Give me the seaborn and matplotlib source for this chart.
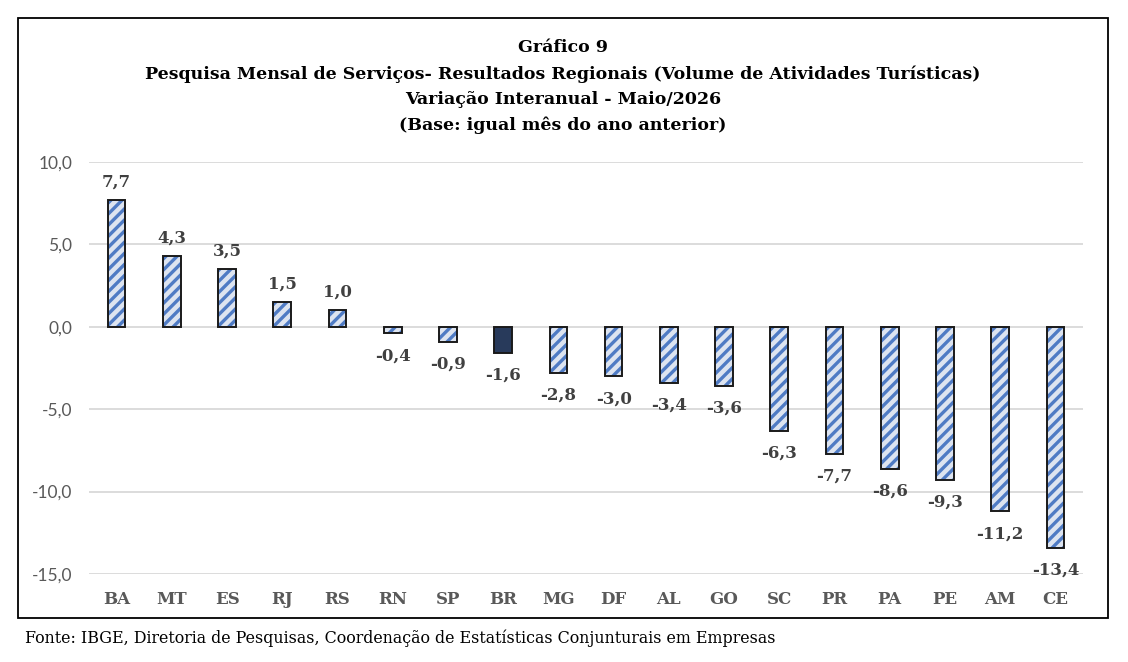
import matplotlib
matplotlib.use("Agg")
import matplotlib.pyplot as plt
import seaborn as sns
import pandas as pd
from matplotlib.patches import Rectangle
from matplotlib.ticker import FuncFormatter, MultipleLocator

categories = ["BA", "MT", "ES", "RJ", "RS", "RN", "SP", "BR", "MG", "DF",
              "AL", "GO", "SC", "PR", "PA", "PE", "AM", "CE"]
values = [7.7, 4.3, 3.5, 1.5, 1.0, -0.4, -0.9, -1.6, -2.8, -3.0,
          -3.4, -3.6, -6.3, -7.7, -8.6, -9.3, -11.2, -13.4]
highlight = "BR"

title_lines = ["Gráfico 9",
               "Pesquisa Mensal de Serviços- Resultados Regionais (Volume de Atividades Turísticas)",
               "Variação Interanual - Maio/2026",
               "(Base: igual mês do ano anterior)"]
source = "Fonte: IBGE, Diretoria de Pesquisas, Coordenação de Estatísticas Conjunturais em Empresas"

LIGHT = "#dae3f3"
HATCH = "#4f7bc4"
DARK = "#1f3864"
EDGE = "#1a1a1a"

sns.set_theme(style="white")
plt.rcParams['font.family'] = ['DejaVu Serif']
plt.rcParams['hatch.linewidth'] = 2.4

df = pd.DataFrame({"uf": categories, "v": values})
palette = {c: (DARK if c == highlight else LIGHT) for c in categories}

fig = plt.figure(figsize=(11.28, 6.62), dpi=100)
ax = fig.add_axes([89 / 1128, (662 - 574) / 662, 994 / 1128, 412 / 662])

sns.barplot(data=df, x="uf", y="v", hue="uf", palette=palette, legend=False,
            width=0.32, ax=ax, zorder=2)

bars = [p for p in ax.patches]
for p, c in zip(bars, categories):
    if c != highlight:
        p.set_hatch("///")
        p.set_edgecolor(HATCH)
    else:
        p.set_edgecolor(DARK)
    p.set_linewidth(0)
    ax.add_patch(Rectangle(p.get_xy(), p.get_width(), p.get_height(),
                           fill=False, edgecolor=EDGE, linewidth=1.4, zorder=3))

def fmt(v):
    return f"{v:.1f}".replace(".", ",")

for cont in ax.containers:
    pos = [fmt(b.get_height()) if b.get_height() >= 0 else "" for b in cont]
    neg = [fmt(b.get_height()) if b.get_height() < 0 else "" for b in cont]
    ax.bar_label(cont, labels=pos, padding=7, fontsize=12, fontweight="bold",
                 color="#404040")
    ax.bar_label(cont, labels=neg, padding=10, fontsize=12, fontweight="bold",
                 color="#404040")

ax.set_ylim(-15, 10)
ax.set_xlim(-0.5, len(categories) - 0.5)
ax.yaxis.set_major_locator(MultipleLocator(5))
ax.yaxis.set_major_formatter(FuncFormatter(lambda v, pos: fmt(v)))
ax.grid(axis="y", color="#d9d9d9", linewidth=1.3, zorder=0)
ax.set_axisbelow(True)
for s in ax.spines.values():
    s.set_visible(False)
ax.set_xlabel("")
ax.set_ylabel("")
ax.tick_params(axis="y", labelsize=12.5, labelcolor="#595959", pad=12, length=0)
ax.tick_params(axis="x", labelsize=12, labelcolor="#595959", pad=12, length=0)
for t in ax.get_yticklabels():
    t.set_family(["Lato", "DejaVu Sans"])
for t in ax.get_xticklabels():
    t.set_fontweight("bold")

ys = [48, 74, 99, 125]
for line, y in zip(title_lines, ys):
    fig.text(563 / 1128, 1 - y / 662, line, ha="center", va="center",
             fontsize=12.5, fontweight="bold", color="black")

fig.text(25 / 1128, 1 - 638 / 662, source, ha="left", va="center",
         fontsize=11.4, color="black")

fig.add_artist(Rectangle((18 / 1128, 1 - 618 / 662), 1090 / 1128, 600 / 662,
                         transform=fig.transFigure, fill=False,
                         edgecolor="black", linewidth=1.3))

fig.savefig("out.png", dpi=100)
